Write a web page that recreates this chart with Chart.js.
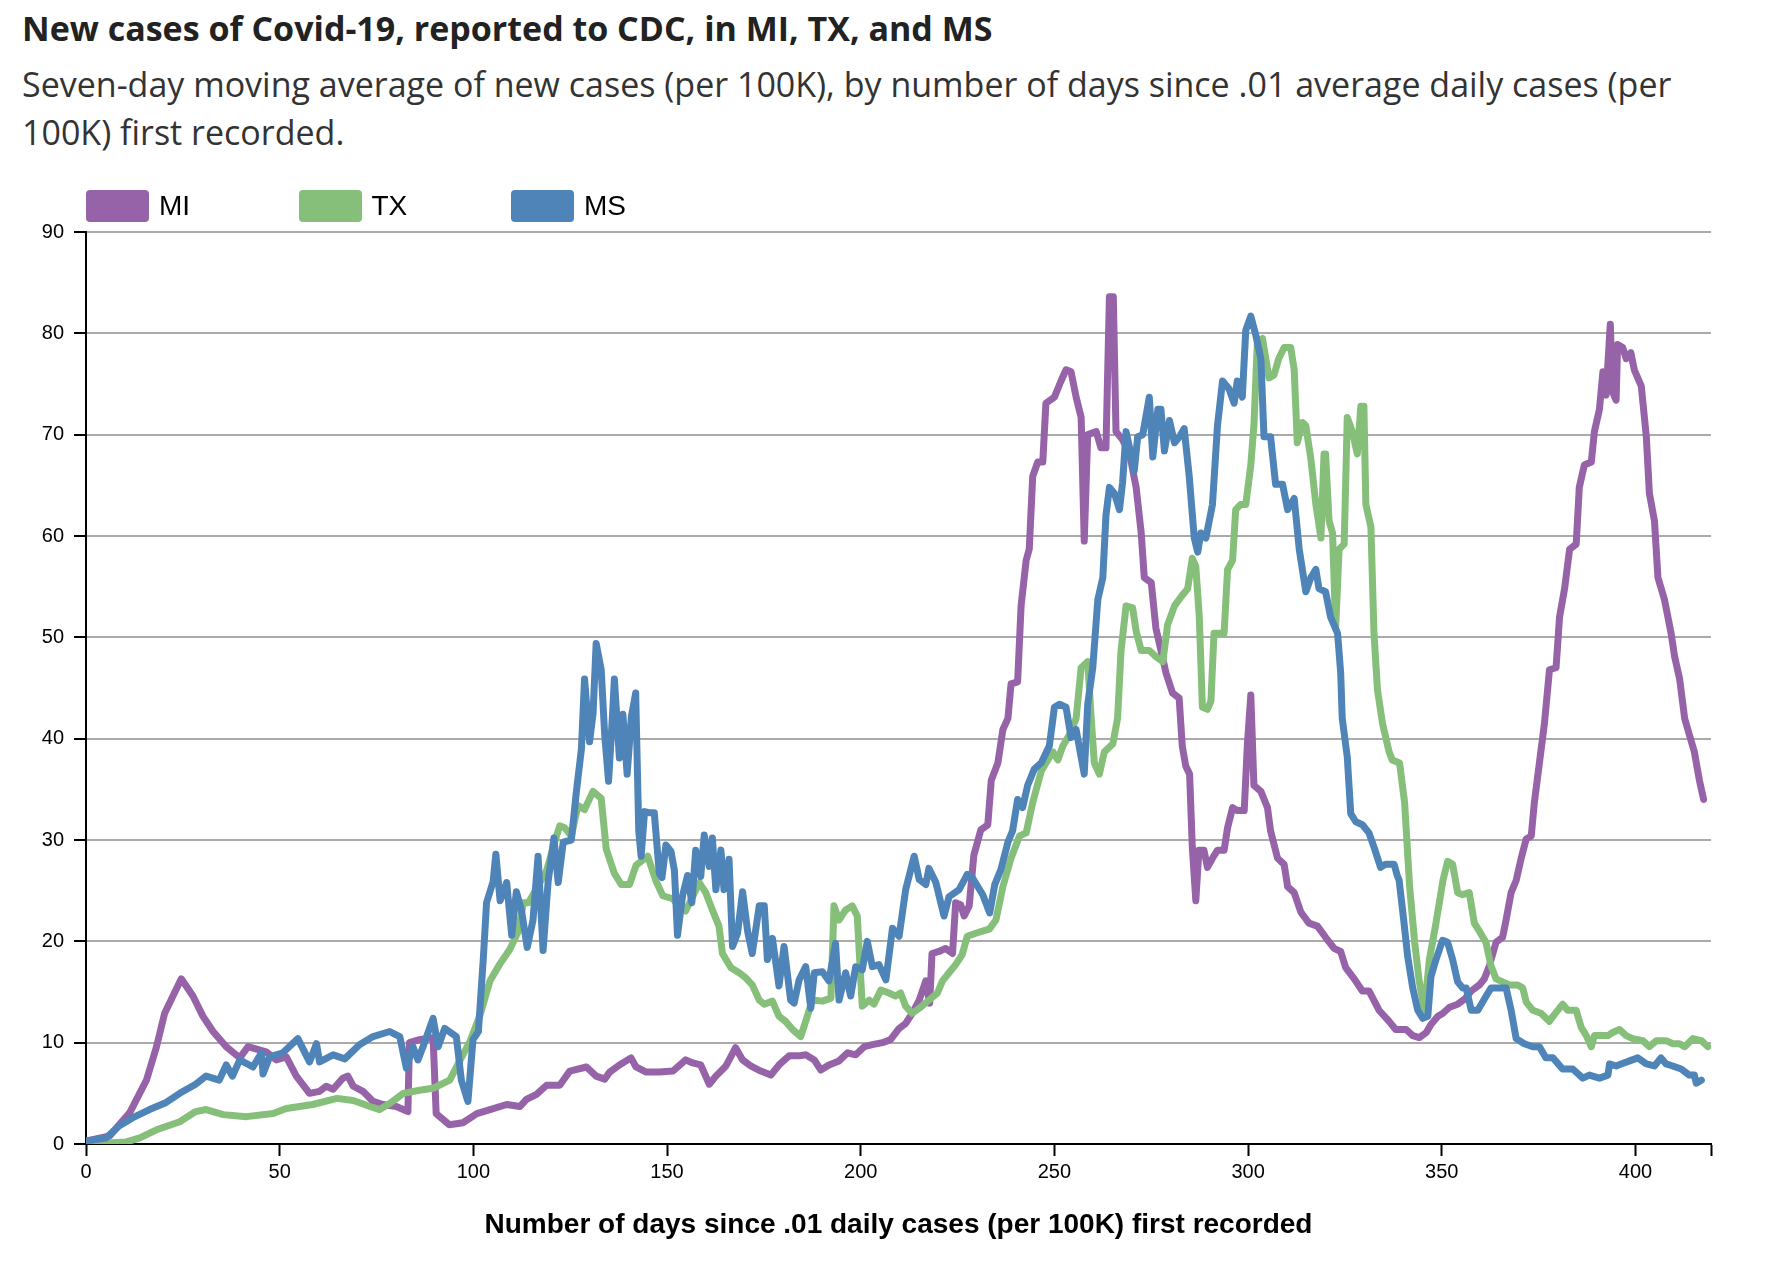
<!DOCTYPE html>
<html lang="en">
<head>
<meta charset="UTF-8">
<title>New cases of Covid-19 in MI, TX and MS</title>
<script src="https://cdn.jsdelivr.net/npm/chart.js@4.4.0/dist/chart.umd.min.js"></script>
<style>
  * { margin: 0; padding: 0; box-sizing: border-box; }

  body {
    width: 1780px;
    height: 1270px;
    position: relative;
    overflow: hidden;
    background: #fff;
    font-family: 'Open Sans', sans-serif;
  }

  .title {
    position: absolute;
    left: 22px;
    top: 4px;
    font-size: 34px;
    font-weight: 700;
    line-height: 48px;
    color: #222;
    white-space: nowrap;
  }

  .subtitle {
    position: absolute;
    left: 22px;
    top: 60px;
    font-size: 34px;
    line-height: 48px;
    color: #333;
    white-space: nowrap;
  }

  .legend {
    position: absolute;
    left: 0;
    top: 190px;
    font-family: 'Liberation Sans', Arial, sans-serif;
    font-size: 28px;
    color: #000;
    z-index: 2;
  }

  .legend-item {
    position: absolute;
    top: 0;
    height: 32px;
    display: flex;
    align-items: center;
    white-space: nowrap;
  }

  .legend-item .swatch {
    width: 63px;
    height: 32px;
    border-radius: 4px;
    margin-right: 10px;
  }

  .chart-box {
    position: absolute;
    left: 0;
    top: 0;
    width: 1780px;
    height: 1270px;
  }
</style>
</head>
<body>
  <div class="title">New cases of Covid-19, reported to CDC, in MI, TX, and MS</div>
  <div class="subtitle">Seven-day moving average of new cases (per 100K), by number of days since .01 average daily cases (per<br>100K) first recorded.</div>
  <div class="legend" id="legend"></div>

  <div class="chart-box">
    <canvas id="chartCasos"></canvas>
  </div>

  <script>
    // Series names and colours (legend order)
    const seriesNames = ['MI', 'TX', 'MS'];
    const seriesColors = ['#9662a8', '#86bf7a', '#4f84b9'];

    // x axis ticks (last one is the unlabeled end of the domain)
    const xTicks = [0, 50, 100, 150, 200, 250, 300, 350, 400, 419.5];

    // MI - days since first recorded / 7-day average per 100K
    const miDays = [0, 6.1, 11.3, 15.6, 18.2, 20.3, 24.6, 27.6, 30.2, 32.8, 36.2, 39.7, 41.8, 46.5, 49.1, 51.7, 54.3, 57.7, 60.3, 62.0,
      63.8, 66.3, 67.6, 69.0, 71.5, 74.1, 76.7, 80.1, 83.1, 83.5, 86.1, 89.6, 90.4, 93.8, 97.3, 100.9, 104.3, 108.6, 112.0, 113.7,
      116.3, 118.9, 122.3, 124.9, 129.2, 131.7, 133.9, 135.2, 137.7, 140.7, 142.0, 144.6, 148.0, 151.5, 154.8, 156.6, 158.7, 160.9, 162.6, 165.2,
      167.7, 169.5, 171.6, 174.2, 176.8, 178.9, 181.5, 184.1, 185.8, 188.0, 189.7, 191.8, 194.4, 196.6, 198.7, 200.9, 203.0, 205.6, 207.7, 209.9,
      211.6, 213.3, 215.1, 216.8, 217.8, 218.4, 220.2, 221.9, 223.7, 224.5, 225.8, 226.7, 228.0, 229.2, 231.0, 232.8, 233.7, 235.4, 236.7, 238.0,
      238.8, 240.5, 241.4, 242.7, 243.5, 244.4, 245.7, 247.0, 247.8, 250.0, 251.7, 253.0, 254.3, 255.6, 256.9, 257.7, 258.6, 260.8, 262.0, 263.3,
      264.2, 265.2, 265.9, 267.6, 269.4, 271.1, 272.4, 273.2, 275.0, 276.2, 278.8, 280.5, 282.2, 283.0, 283.9, 284.9, 285.6, 286.5, 287.3, 288.6,
      289.5, 290.8, 292.1, 293.8, 294.7, 296.0, 297.2, 299.0, 299.8, 300.7, 301.5, 303.3, 305.0, 305.8, 307.6, 309.3, 310.2, 311.9, 313.6, 315.7,
      317.9, 320.0, 322.2, 323.9, 325.2, 327.4, 329.5, 331.2, 333.8, 336.4, 338.1, 340.8, 342.5, 344.2, 346.0, 347.2, 349.0, 350.3, 352.0, 354.1,
      355.9, 357.6, 359.7, 361.0, 362.3, 364.0, 365.7, 366.6, 367.9, 369.2, 370.5, 371.8, 373.1, 373.9, 375.2, 376.5, 377.8, 379.5, 380.4, 381.7,
      383.0, 384.7, 385.5, 386.8, 388.6, 389.4, 390.7, 391.6, 392.4, 393.5, 394.1, 395.0, 395.4, 396.7, 397.6, 398.8, 399.7, 401.5, 402.8, 403.6,
      404.9, 405.8, 407.5, 409.2, 410.1, 411.4, 412.7, 413.9, 415.2, 416.5, 417.6];
    const miCases = [0.3, 0.8, 3.1, 6.3, 9.6, 12.9, 16.3, 14.6, 12.6, 11.1, 9.6, 8.5, 9.6, 9.1, 8.3, 8.6, 6.7, 5.0, 5.2, 5.7,
      5.4, 6.5, 6.7, 5.7, 5.2, 4.2, 3.9, 3.7, 3.2, 10.0, 10.3, 10.5, 3.0, 1.9, 2.1, 3.0, 3.4, 3.9, 3.7, 4.4,
      4.9, 5.8, 5.8, 7.2, 7.6, 6.7, 6.4, 7.1, 7.8, 8.5, 7.6, 7.1, 7.1, 7.2, 8.3, 8.0, 7.8, 5.9, 6.7, 7.7,
      9.5, 8.3, 7.7, 7.2, 6.8, 7.8, 8.7, 8.7, 8.8, 8.3, 7.3, 7.8, 8.2, 9.0, 8.8, 9.6, 9.8, 10.0, 10.3, 11.4,
      11.9, 12.9, 14.2, 16.1, 13.9, 18.8, 19.0, 19.3, 18.8, 23.8, 23.6, 22.5, 23.5, 28.5, 31.0, 31.5, 35.9, 37.6, 40.9, 42.0,
      45.4, 45.6, 53.1, 57.6, 58.7, 65.9, 67.3, 67.3, 73.1, 73.7, 75.3, 76.4, 76.2, 73.7, 71.7, 59.5, 70.0, 70.3, 68.7, 68.7,
      83.6, 83.6, 70.3, 69.5, 68.1, 64.8, 60.3, 55.9, 55.4, 50.9, 46.5, 44.5, 44.0, 39.3, 37.3, 36.5, 29.3, 24.0, 29.0, 29.0,
      27.3, 28.2, 29.0, 29.0, 31.2, 33.2, 32.9, 32.9, 39.3, 44.3, 35.4, 34.8, 33.2, 30.9, 28.2, 27.6, 25.4, 24.8, 22.9, 21.8,
      21.5, 20.4, 19.3, 19.0, 17.4, 16.3, 15.1, 15.1, 13.2, 12.1, 11.3, 11.3, 10.7, 10.5, 11.0, 11.8, 12.6, 12.9, 13.5, 13.8,
      14.3, 15.1, 15.7, 16.3, 17.6, 19.9, 20.4, 22.1, 24.8, 26.0, 28.2, 30.1, 30.4, 33.7, 37.6, 41.5, 46.8, 47.0, 52.0, 54.8,
      58.7, 59.2, 64.8, 67.0, 67.3, 70.3, 72.5, 76.2, 73.9, 80.9, 74.2, 73.4, 78.9, 78.6, 77.5, 78.1, 76.4, 74.8, 69.8, 64.2,
      61.5, 55.9, 53.7, 50.4, 48.1, 45.9, 42.0, 40.4, 38.7, 35.9, 34.0];

    // TX
    const txDays = [0, 10.4, 13.9, 18.2, 24.2, 28.3, 31.0, 35.4, 41.4, 48.3, 51.7, 58.5, 64.8, 69.0, 73.3, 75.8, 78.4, 81.9, 86.1, 89.6,
      93.9, 96.6, 99.1, 101.7, 104.3, 106.9, 109.4, 111.6, 112.9, 114.2, 116.3, 118.9, 121.0, 122.3, 123.6, 125.3, 127.0, 128.7, 130.9, 133.0,
      134.3, 136.4, 138.2, 140.3, 142.0, 145.0, 147.2, 148.9, 151.5, 153.1, 154.8, 156.6, 158.3, 160.0, 161.7, 163.4, 164.3, 166.5, 168.6, 170.3,
      172.0, 173.8, 175.1, 177.2, 178.9, 180.6, 182.4, 184.5, 186.2, 187.5, 190.1, 192.3, 193.1, 194.4, 196.1, 197.8, 199.1, 200.4, 202.2, 203.4,
      205.2, 207.3, 209.0, 210.3, 211.6, 213.3, 215.1, 217.6, 219.8, 221.1, 222.8, 224.5, 226.2, 227.5, 229.7, 231.4, 233.2, 234.9, 236.7, 238.8,
      241.0, 242.7, 244.4, 246.6, 248.3, 249.6, 250.9, 252.2, 253.9, 255.6, 256.9, 258.6, 259.5, 260.3, 261.6, 262.9, 265.1, 266.3, 267.2, 268.5,
      270.2, 271.1, 272.4, 274.5, 276.2, 278.0, 279.2, 281.0, 282.7, 284.4, 285.6, 286.5, 287.4, 288.2, 289.5, 290.4, 291.2, 293.8, 294.7, 296.0,
      296.8, 298.1, 299.4, 300.7, 301.5, 302.4, 303.7, 305.4, 306.7, 307.9, 309.3, 311.0, 311.9, 312.7, 314.0, 314.9, 316.2, 317.5, 318.8, 319.6,
      320.0, 320.9, 321.8, 322.6, 323.5, 324.8, 325.6, 326.9, 328.2, 329.1, 329.9, 330.4, 331.7, 332.5, 333.4, 334.7, 336.4, 337.2, 339.1, 340.4,
      341.7, 343.0, 344.2, 345.5, 346.8, 348.5, 350.3, 351.5, 352.8, 354.1, 355.4, 357.1, 358.4, 359.7, 361.4, 362.7, 364.0, 365.7, 367.5, 369.6,
      370.9, 371.8, 373.5, 375.6, 377.8, 378.7, 381.2, 382.5, 384.7, 386.0, 387.3, 388.6, 389.4, 391.1, 392.9, 394.1, 395.9, 397.6, 399.3, 401.9,
      403.6, 405.4, 407.9, 409.7, 411.4, 412.7, 414.8, 417.0, 418.7];
    const txCases = [0, 0.2, 0.6, 1.4, 2.2, 3.2, 3.4, 2.9, 2.7, 3.0, 3.5, 3.9, 4.5, 4.3, 3.7, 3.4, 4.0, 5.0, 5.3, 5.5,
      6.3, 8.3, 10.1, 12.7, 16.1, 17.8, 19.2, 21.0, 23.8, 23.8, 25.2, 27.0, 29.8, 31.4, 31.2, 30.4, 33.4, 33.0, 34.8, 34.1,
      29.1, 26.7, 25.6, 25.6, 27.5, 28.4, 25.9, 24.5, 24.2, 23.5, 23.0, 24.4, 25.8, 24.8, 23.1, 21.5, 18.8, 17.4, 16.9, 16.4,
      15.7, 14.2, 13.8, 14.1, 12.6, 12.1, 11.3, 10.6, 12.6, 14.2, 14.1, 14.4, 23.5, 22.1, 23.1, 23.5, 22.5, 13.6, 14.2, 13.8,
      15.2, 14.9, 14.6, 14.9, 13.6, 12.9, 13.4, 14.2, 14.9, 16.1, 16.9, 17.7, 18.7, 20.5, 20.8, 21.0, 21.2, 22.1, 25.4, 28.2,
      30.4, 30.7, 33.7, 36.8, 37.9, 38.7, 37.9, 39.3, 40.4, 42.0, 47.0, 47.6, 42.0, 37.6, 36.5, 38.7, 39.5, 42.0, 48.7, 53.1,
      52.9, 50.6, 48.7, 48.7, 48.1, 47.6, 51.2, 53.1, 54.0, 54.8, 57.8, 57.0, 52.0, 43.1, 42.9, 43.7, 50.4, 50.4, 56.7, 57.6,
      62.6, 63.1, 63.1, 67.0, 70.9, 79.2, 79.5, 75.6, 75.9, 77.5, 78.6, 78.6, 76.4, 69.2, 71.2, 70.9, 67.6, 63.1, 59.8, 68.1,
      68.1, 61.5, 60.3, 50.9, 58.7, 59.2, 71.7, 70.3, 68.1, 72.8, 72.8, 63.1, 60.9, 50.4, 44.8, 41.5, 38.7, 37.9, 37.6, 33.7,
      25.4, 19.9, 16.0, 13.2, 18.2, 21.8, 26.0, 27.9, 27.6, 24.8, 24.6, 24.8, 21.8, 21.0, 19.9, 17.6, 16.3, 16.0, 15.7, 15.7,
      15.4, 14.0, 13.2, 12.9, 12.1, 12.6, 13.8, 13.2, 13.2, 11.5, 10.7, 9.6, 10.7, 10.7, 10.7, 11.0, 11.3, 10.7, 10.4, 10.2,
      9.6, 10.2, 10.2, 9.9, 9.9, 9.6, 10.4, 10.2, 9.6];

    // MS
    const msDays = [0, 5.2, 8.6, 12.1, 16.4, 20.7, 24.2, 28.3, 31.0, 34.4, 36.2, 37.8, 39.7, 43.1, 45.3, 45.7, 47.4, 50.8, 54.7, 57.7,
      59.5, 60.3, 63.8, 66.8, 70.6, 74.1, 78.4, 81.0, 82.7, 84.4, 85.7, 87.0, 89.6, 90.9, 92.6, 95.6, 96.9, 98.6, 99.9, 101.3,
      102.6, 103.4, 105.1, 105.8, 106.9, 108.6, 109.9, 111.1, 112.4, 113.9, 115.4, 116.7, 118.0, 119.3, 120.8, 121.9, 123.2, 125.3, 126.6, 127.9,
      128.7, 130.0, 130.9, 131.7, 133.0, 133.9, 134.9, 135.9, 136.4, 137.7, 138.6, 139.7, 140.8, 141.9, 142.7, 143.3, 144.2, 145.3, 146.7, 148.0,
      148.7, 149.7, 151.0, 151.9, 152.7, 154.0, 155.3, 156.4, 157.4, 158.7, 159.6, 160.9, 161.7, 162.6, 163.9, 164.7, 166.0, 166.9, 168.2, 169.5,
      170.8, 172.0, 173.8, 175.1, 175.9, 177.2, 178.9, 180.2, 181.9, 182.8, 184.1, 185.8, 187.1, 188.0, 190.1, 191.8, 193.5, 194.4, 196.1, 197.4,
      198.7, 200.4, 201.7, 203.0, 204.7, 206.5, 208.2, 209.9, 211.6, 213.8, 215.1, 216.8, 217.6, 219.4, 221.5, 222.8, 225.4, 227.5, 228.8, 231.5,
      233.3, 234.6, 236.2, 238.0, 239.2, 240.5, 241.8, 243.1, 244.8, 246.6, 248.7, 250.0, 251.3, 253.0, 254.3, 255.6, 257.7, 258.6, 259.9, 261.2,
      262.5, 263.3, 264.2, 265.5, 266.8, 267.6, 268.5, 269.4, 270.6, 271.5, 272.8, 274.5, 275.4, 276.7, 277.5, 278.4, 279.7, 281.0, 282.3, 283.5,
      284.8, 286.1, 287.0, 287.8, 289.1, 290.8, 292.1, 293.4, 295.1, 296.4, 297.2, 298.5, 299.4, 300.7, 302.0, 303.3, 304.1, 305.8, 307.1, 308.9,
      310.2, 311.9, 313.2, 314.9, 316.2, 317.5, 318.3, 320.0, 321.3, 323.1, 323.9, 324.3, 325.6, 326.5, 327.8, 329.5, 331.2, 332.5, 334.2, 335.5,
      337.7, 338.5, 339.0, 340.2, 341.2, 342.5, 343.8, 345.1, 346.4, 347.2, 348.5, 350.2, 351.5, 352.8, 354.1, 355.4, 356.3, 357.6, 359.3, 361.0,
      362.7, 364.9, 366.6, 367.9, 369.2, 371.3, 373.5, 375.2, 376.9, 378.7, 381.2, 383.8, 386.4, 388.1, 390.7, 392.9, 393.3, 395.0, 396.3, 398.5,
      400.6, 402.8, 404.9, 406.6, 407.9, 409.6, 411.8, 413.9, 415.2, 415.7, 417.0];
    const msCases = [0.3, 0.6, 1.8, 2.6, 3.4, 4.1, 5.0, 5.9, 6.7, 6.3, 7.8, 6.7, 8.3, 7.6, 9.0, 6.9, 8.6, 9.0, 10.4, 8.1,
      9.9, 8.1, 8.8, 8.4, 9.8, 10.6, 11.1, 10.6, 7.5, 9.6, 8.3, 9.6, 12.4, 9.6, 11.4, 10.6, 6.3, 4.2, 10.3, 11.1,
      18.5, 23.8, 25.9, 28.6, 24.0, 25.8, 20.6, 24.9, 23.1, 19.4, 22.1, 28.4, 19.1, 25.9, 30.2, 25.8, 29.8, 30.0, 34.8, 39.0,
      45.9, 39.7, 42.5, 49.4, 46.8, 40.4, 35.8, 42.2, 45.9, 38.1, 42.4, 36.5, 42.2, 44.5, 30.9, 28.4, 32.8, 32.7, 32.7, 26.7,
      26.3, 29.5, 28.9, 27.0, 20.6, 24.5, 26.5, 23.8, 29.0, 26.4, 30.5, 27.4, 30.2, 25.1, 29.0, 25.1, 28.1, 19.5, 20.8, 24.9,
      21.0, 18.8, 23.5, 23.5, 18.2, 20.3, 15.6, 19.5, 14.2, 13.9, 16.2, 17.5, 13.4, 16.9, 17.0, 16.1, 19.8, 14.2, 16.9, 14.6,
      17.5, 17.2, 20.0, 17.5, 17.7, 16.2, 21.3, 20.5, 25.1, 28.4, 26.1, 25.6, 27.2, 25.8, 22.5, 24.4, 25.1, 26.6, 26.3, 24.6,
      22.8, 25.6, 27.1, 29.8, 30.9, 34.0, 33.2, 35.4, 37.0, 37.6, 39.3, 43.1, 43.4, 43.1, 40.1, 40.9, 36.5, 43.4, 47.0, 53.7,
      55.9, 62.0, 64.8, 64.2, 62.6, 65.3, 70.3, 68.7, 66.4, 69.8, 70.0, 73.7, 67.8, 72.5, 72.5, 68.4, 71.4, 69.2, 69.8, 70.6,
      65.9, 59.8, 58.4, 60.3, 59.8, 63.1, 70.9, 75.3, 74.5, 73.1, 75.3, 73.7, 80.3, 81.7, 79.8, 77.5, 69.8, 69.8, 65.1, 65.1,
      62.6, 63.7, 58.7, 54.5, 55.9, 56.7, 54.8, 54.5, 52.0, 50.4, 46.5, 42.0, 38.2, 32.6, 31.8, 31.5, 30.7, 29.3, 27.3, 27.6,
      27.6, 26.5, 26.0, 22.0, 18.5, 15.4, 13.2, 12.4, 12.6, 16.5, 18.2, 20.1, 19.9, 18.2, 16.0, 15.4, 15.4, 13.2, 13.2, 14.3,
      15.4, 15.4, 15.4, 13.2, 10.4, 9.9, 9.6, 9.6, 8.5, 8.5, 7.4, 7.4, 6.5, 6.8, 6.5, 6.8, 7.9, 7.7, 7.9, 8.2,
      8.5, 7.9, 7.7, 8.5, 7.9, 7.7, 7.4, 6.8, 6.8, 6.0, 6.3];

    const toPoints = (days, values) => days.map((d, i) => ({ x: d, y: values[i] }));

    // Legenda em HTML (caixas largas com espaçamento fixo)
    const legend = document.getElementById('legend');
    seriesNames.forEach((name, i) => {
      const item = document.createElement('div');
      item.className = 'legend-item';
      item.style.left = (86 + i * 212.5) + 'px';
      item.innerHTML = `<span class="swatch" style="background:${seriesColors[i]}"></span><span>${name}</span>`;
      legend.appendChild(item);
    });

    const axisFont = { family: "'Liberation Sans', Arial, sans-serif", size: 20 };

    new Chart(document.getElementById('chartCasos'), {
      type: 'line',
      data: {
        datasets: [
          { label: 'MI', data: toPoints(miDays, miCases), borderColor: seriesColors[0], order: 3 },
          { label: 'TX', data: toPoints(txDays, txCases), borderColor: seriesColors[1], order: 2 },
          { label: 'MS', data: toPoints(msDays, msCases), borderColor: seriesColors[2], order: 1 },
        ]
      },
      options: {
        responsive: true,
        maintainAspectRatio: false,
        animation: false,
        layout: { padding: { top: 232, right: 69, bottom: 0, left: 0 } },
        elements: {
          point: { radius: 0 },
          line: { tension: 0, borderWidth: 7, borderJoinStyle: 'round', borderCapStyle: 'round', fill: false }
        },
        plugins: {
          legend: { display: false },
          tooltip: { enabled: false }
        },
        scales: {
          x: {
            type: 'linear',
            min: 0,
            max: 419.5,
            afterBuildTicks: (scale) => { scale.ticks = xTicks.map(v => ({ value: v })); },
            afterFit: (scale) => { scale.height = 126; },
            grid: { drawOnChartArea: false, tickLength: 12, tickColor: '#000', tickWidth: 2 },
            border: { color: '#000', width: 2 },
            ticks: {
              autoSkip: false,
              maxRotation: 0,
              padding: 4,
              color: '#000',
              font: axisFont,
              callback: (v) => (v % 50 === 0 ? String(v) : '')
            },
            title: {
              display: true,
              text: 'Number of days since .01 daily cases (per 100K) first recorded',
              color: '#000',
              font: { family: "'Liberation Sans', Arial, sans-serif", size: 28, weight: 'bold' },
              padding: { top: 0, bottom: 28 }
            }
          },
          y: {
            min: 0,
            max: 90,
            afterFit: (scale) => { scale.width = 86; },
            grid: { color: '#aaaaaa', lineWidth: 2, tickLength: 12, tickColor: '#000', tickWidth: 2 },
            border: { color: '#000', width: 2 },
            ticks: { stepSize: 10, padding: 10, color: '#000', font: axisFont }
          }
        }
      }
    });
  </script>
</body>
</html>
